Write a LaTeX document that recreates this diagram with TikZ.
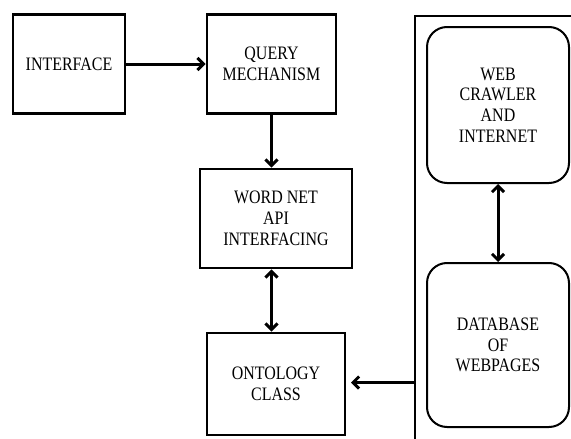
\documentclass[tikz,border=0pt]{standalone}
\usepackage{fontspec}
\setmainfont{Liberation Serif}
\newfontfamily\lbl{Liberation Serif}[FakeStretch=0.84]
\usetikzlibrary{arrows.meta}
\begin{document}
\begin{tikzpicture}[x=1pt,y=-1pt,
  box/.style={draw,line width=2.8pt,rectangle,align=center,inner sep=0pt,
    font=\lbl\fontsize{19}{20.7}\selectfont},
  rbox/.style={draw,line width=2pt,rectangle,rounded corners=20pt,align=center,inner sep=0pt,
    font=\lbl\fontsize{19}{20.7}\selectfont},
  arr/.style={line width=3pt,-{Straight Barb[length=6pt,width=12pt]}},
  darr/.style={line width=3pt,{Straight Barb[length=6pt,width=12pt]}-{Straight Barb[length=6pt,width=12pt]}},
  panel/.style={line width=2pt}]
\useasboundingbox (0,0) rectangle (571,439);
\node[box,minimum width=112pt,minimum height=99pt] (iface) at (69,64) {INTERFACE};
\node[box,minimum width=129pt,minimum height=99pt] (query) at (271.5,64) {QUERY\\MECHANISM};
\node[box,minimum width=152pt,minimum height=99pt] (wordnet) at (276,218.5) {WORD NET\\API\\INTERFACING};
\node[box,minimum width=138pt,minimum height=102pt] (onto) at (276,384) {ONTOLOGY\\CLASS};
\node[rbox,minimum width=142pt,minimum height=156pt] (web) at (498,105) {WEB\\CRAWLER\\AND\\INTERNET};
\node[rbox,minimum width=142pt,minimum height=164pt] (db) at (498,345) {DATABASE\\OF\\WEBPAGES};
\draw[panel] (571,16) -- (415,16) -- (415,439);
\coordinate (pl) at (415,382.5);
\coordinate (ot) at (351,382.5);
\draw[arr] (iface.east) -- (query.west);
\draw[arr] (query.south) -- (query.south |- wordnet.north);
\draw[darr] (query.south |- wordnet.south) -- (query.south |- onto.north);
\draw[darr] (web.south) -- (db.north);
\draw[arr] (pl) -- (ot);
\end{tikzpicture}
\end{document}
